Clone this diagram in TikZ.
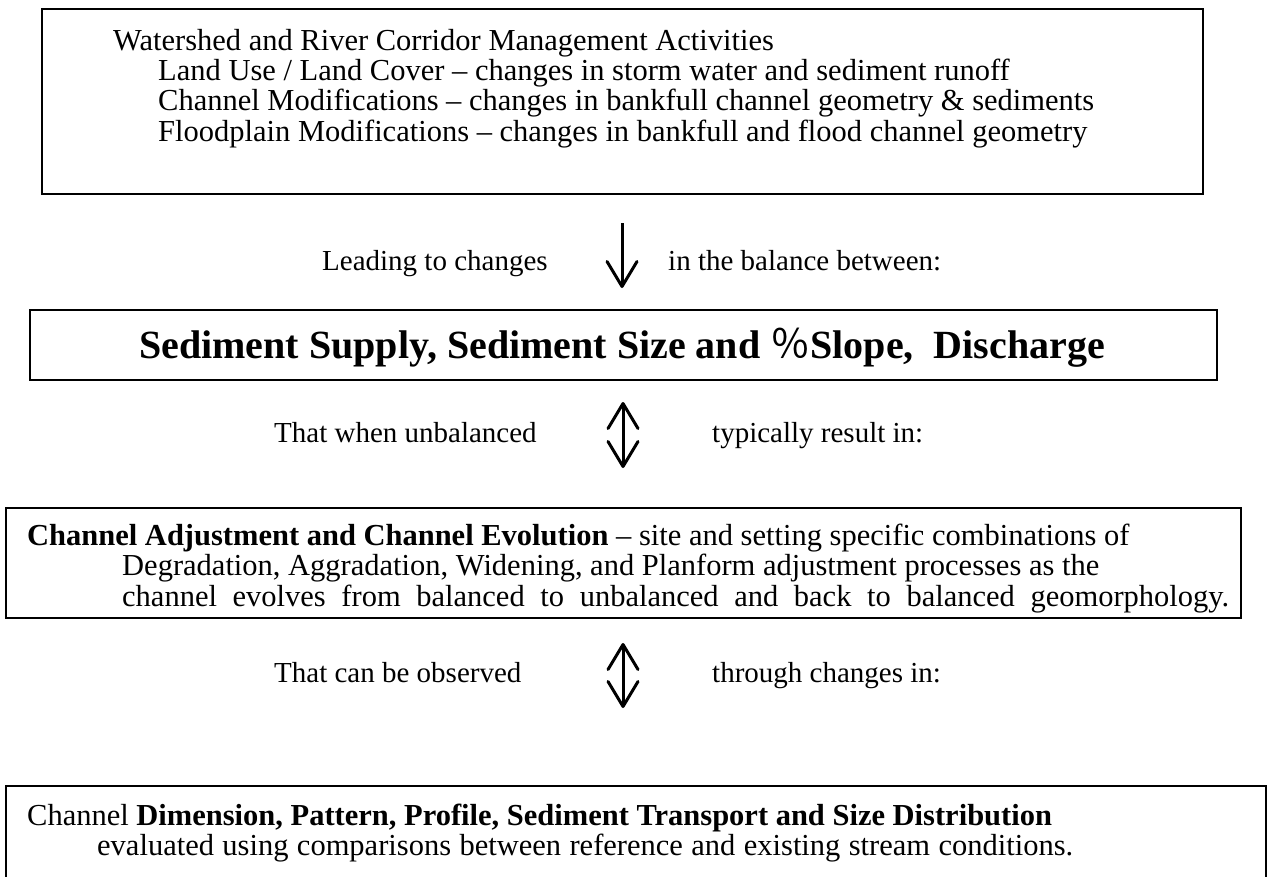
\documentclass[tikz,border=0pt]{standalone}
\usepackage{fontspec}
\setmainfont{Liberation Serif}
\newfontfamily\cjk{Noto Sans CJK SC}
\usetikzlibrary{arrows.meta}
\begin{document}
\begin{tikzpicture}[x=1pt,y=-1pt,
  box/.style={draw,line width=2.5pt,inner sep=0pt},
  txt/.style={anchor=base west,inner sep=0pt,font=\fontsize{30.5}{35}\selectfont},
  ctxt/.style={anchor=base,inner sep=0pt,font=\fontsize{40}{46}\selectfont},
  lbl/.style={anchor=base west,inner sep=0pt,font=\fontsize{29}{34}\selectfont},
  barb/.tip={Straight Barb[length=25pt,width=30pt,line cap=round,line join=round]},
  flow/.style={line width=3pt,-barb},
  dflow/.style={line width=3pt,barb-barb}]
\useasboundingbox (0,0) rectangle (1268,876);
% boxes
\node[box,minimum width=1161pt,minimum height=185pt] (b1) at (622.5,101.5) {};
\node[box,minimum width=1187pt,minimum height=70pt] (b2) at (623.5,345) {};
\node[box,minimum width=1235pt,minimum height=110pt] (b3) at (623.5,563) {};
\draw[line width=2.5pt] (6,878) coordinate (b4sw) |- (1266,786) coordinate (b4ne) -- (1266,878) coordinate (b4se);
% box 1 text
\node[txt] (t11) at (113,50) {Watershed and River Corridor Management Activities};
\node[txt] (t12) at (158,80) {Land Use / Land Cover – changes in storm water and sediment runoff};
\node[txt] (t13) at (158,110.5) {Channel Modifications – changes in bankfull channel geometry \& sediments};
\node[txt] (t14) at (158,141) {Floodplain Modifications – changes in bankfull and flood channel geometry};
% arrow 1
\coordinate (a1s) at (622,223);
\coordinate (a1e) at (622,288);
\draw[flow] (a1s) -- (a1e);
\node[lbl] (l1a) at (322,270) {Leading to changes};
\node[lbl] (l1b) at (668,270) {in the balance between:};
% box 2 text
\node[ctxt] (t2) at (622,358) {\bfseries Sediment Supply, Sediment Size and {\cjk\mdseries ％}Slope,\ \ Discharge};
% arrow 2
\coordinate (a2s) at (623,402);
\coordinate (a2e) at (623,468);
\draw[dflow] (a2s) -- (a2e);
\node[lbl] (l2a) at (274,442) {That when unbalanced};
\node[lbl] (l2b) at (712,442) {typically result in:};
% box 3 text
\node[txt] (t31) at (27,545) {\textbf{Channel Adjustment and Channel Evolution} – site and setting specific combinations of};
\node[txt] (t32) at (122,575.5) {Degradation, Aggradation, Widening, and Planform adjustment processes as the};
\node[txt] (t33) at (122,606) {\hbox to 1107pt{channel evolves from balanced to unbalanced and back to balanced geomorphology.}};
% arrow 3
\coordinate (a3s) at (623,643);
\coordinate (a3e) at (623,708);
\draw[dflow] (a3s) -- (a3e);
\node[lbl] (l3a) at (274,682) {That can be observed};
\node[lbl] (l3b) at (712,682) {through changes in:};
% box 4 text
\node[txt] (t41) at (27,825) {Channel \textbf{Dimension, Pattern, Profile, Sediment Transport and Size Distribution}};
\node[txt] (t42) at (97,855) {\hbox to 976pt{evaluated using comparisons between reference and existing stream conditions.}};
\end{tikzpicture}
\end{document}
